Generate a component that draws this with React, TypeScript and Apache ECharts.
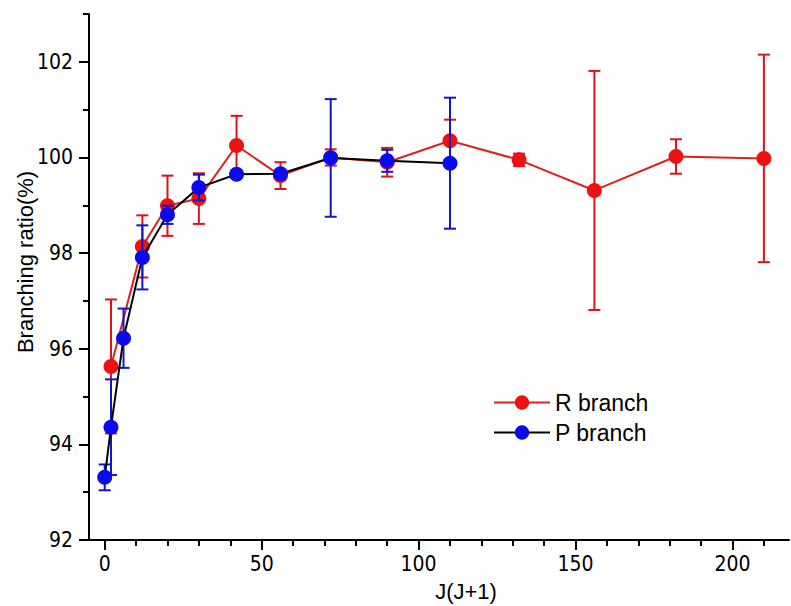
import React, { useEffect, useRef } from "react";
import * as echarts from "echarts";

// ---- data ----
const rX = [2, 12, 20, 30, 42, 56, 72, 90, 110, 132, 156, 182, 210];
const rY = [95.63, 98.14, 98.99, 99.14, 100.25, 99.62, 100.0, 99.9, 100.35, 99.95, 99.31, 100.02, 99.98];
const rErr = [1.4, 0.65, 0.63, 0.53, 0.62, 0.28, 0.17, 0.3, 0.44, 0.13, 2.5, 0.36, 2.17];

const pX = [0, 2, 6, 12, 20, 30, 42, 56, 72, 90, 110];
const pY = [93.31, 94.36, 96.22, 97.91, 98.8, 99.37, 99.65, 99.66, 99.99, 99.93, 99.88];
const pErr = [0.27, 1.0, 0.62, 0.67, 0.19, 0.27, 0.08, 0.08, 1.23, 0.23, 1.37];

const xMajor = [0, 50, 100, 150, 200];
const xMinor = [10, 20, 30, 40, 60, 70, 80, 90, 110, 120, 130, 140, 160, 170, 180, 190, 210];
const yMajor = [92, 94, 96, 98, 100, 102];
const yMinor = [93, 95, 97, 99, 101, 103];

const xTitle = "J(J+1)";
const yTitle = "Branching ratio(%)";

const FONT = "Liberation Sans, Arial, sans-serif";
const NARROW = "Liberation Sans Narrow, Arial Narrow, DejaVu Sans Condensed, sans-serif";

function errRender(color: string) {
  return (params: any, api: any) => {
    const x = api.value(0);
    const lo = api.coord([x, api.value(1)]);
    const hi = api.coord([x, api.value(2)]);
    const w = 6;
    const style = { stroke: color, lineWidth: 2 };
    return {
      type: "group",
      children: [
        { type: "line", shape: { x1: lo[0], y1: lo[1], x2: hi[0], y2: hi[1] }, style },
        { type: "line", shape: { x1: hi[0] - w, y1: hi[1], x2: hi[0] + w, y2: hi[1] }, style },
        { type: "line", shape: { x1: lo[0] - w, y1: lo[1], x2: lo[0] + w, y2: lo[1] }, style },
      ],
    };
  };
}

export default function App() {
  const ref = useRef<HTMLDivElement>(null);
  useEffect(() => {
    document.body.style.margin = "0";
    const chart = echarts.init(ref.current!, null, { renderer: "svg" });
    const axisLine = { show: true, onZero: false, lineStyle: { color: "#000", width: 2 } };
    const gridPos = { left: 89, top: 14, width: 700, height: 526 };
    chart.setOption({
      animation: false,
      backgroundColor: "#fff",
      grid: gridPos,
      graphic: [
        {
          type: "text",
          x: 25,
          y: 262,
          rotation: Math.PI / 2,
          style: { text: yTitle, fontFamily: FONT, fontSize: 22, fill: "#000", align: "center", verticalAlign: "middle" },
        },
        {
          type: "text",
          x: 466,
          y: 591,
          style: { text: xTitle, fontFamily: FONT, fontSize: 22, fill: "#000", align: "center", verticalAlign: "middle" },
        },
      ],
      legend: {
        left: 488,
        top: 386,
        orient: "vertical",
        itemWidth: 56,
        itemHeight: 18,
        itemGap: 7,
        data: ["R branch", "P branch"],
        textStyle: { fontFamily: FONT, fontSize: 23, color: "#000" },
      },
      xAxis: [
        {
          type: "value",
          min: -5,
          max: 218,
          axisLine,
          axisTick: { show: true, customValues: xMajor, length: 10, inside: false, lineStyle: { color: "#000", width: 2 } },
          axisLabel: { customValues: xMajor, margin: 13, fontFamily: NARROW, fontSize: 21, color: "#000" },
          splitLine: { show: false },
        },
        {
          type: "value",
          min: -5,
          max: 218,
          position: "bottom",
          axisLine: { show: false, onZero: false },
          axisTick: { show: true, customValues: xMinor, length: 6, lineStyle: { color: "#000", width: 2 } },
          axisLabel: { show: false },
          splitLine: { show: false },
        },
      ],
      yAxis: [
        {
          type: "value",
          min: 92,
          max: 103,
          axisLine,
          axisTick: { show: true, customValues: yMajor, length: 10, lineStyle: { color: "#000", width: 2 } },
          axisLabel: { customValues: yMajor, margin: 16, fontFamily: NARROW, fontSize: 21, color: "#000" },
          splitLine: { show: false },
        },
        {
          type: "value",
          min: 92,
          max: 103,
          position: "left",
          axisLine: { show: false, onZero: false },
          axisTick: { show: true, customValues: yMinor, length: 6, lineStyle: { color: "#000", width: 2 } },
          axisLabel: { show: false },
          splitLine: { show: false },
        },
      ],
      series: [
        {
          type: "custom",
          name: "R err",
          xAxisIndex: 0,
          yAxisIndex: 0,
          renderItem: errRender("#d8141c"),
          data: rX.map((x, i) => [x, rY[i] - rErr[i], rY[i] + rErr[i]]),
          encode: { x: 0, y: [1, 2] },
          z: 2,
        },
        {
          type: "line",
          name: "R branch",
          data: rX.map((x, i) => [x, rY[i]]),
          symbol: "circle",
          symbolSize: 15,
          lineStyle: { color: "#d92323", width: 2 },
          itemStyle: { color: "#ee1111" },
          z: 3,
        },
        {
          type: "custom",
          name: "P err",
          renderItem: errRender("#1414c8"),
          data: pX.map((x, i) => [x, pY[i] - pErr[i], pY[i] + pErr[i]]),
          encode: { x: 0, y: [1, 2] },
          z: 4,
        },
        {
          type: "line",
          name: "P branch",
          data: pX.map((x, i) => [x, pY[i]]),
          symbol: "circle",
          symbolSize: 15,
          lineStyle: { color: "#000", width: 2 },
          itemStyle: { color: "#0a0aee" },
          z: 5,
        },
      ],
    });
    return () => chart.dispose();
  }, []);
  return <div ref={ref} style={{ width: 791, height: 606 }} />;
}
